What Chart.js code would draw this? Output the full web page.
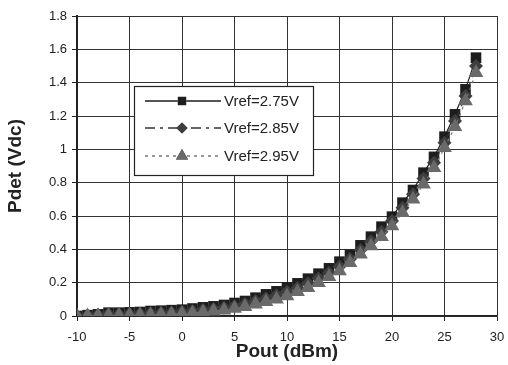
<!DOCTYPE html>
<html>
<head>
<meta charset="utf-8">
<script src="https://cdn.jsdelivr.net/npm/chart.js@4"></script>
<style>
  html, body { margin: 0; padding: 0; background: #fff; }
  #wrap { width: 508px; height: 365px; }
</style>
</head>
<body>
<div id="wrap"><canvas id="pdetChart" width="508" height="365"></canvas></div>
<script>
// ----------------------------
// DATA
// ----------------------------
const poutDbm = [-10, -9, -8, -7, -6, -5, -4, -3, -2, -1, 0, 1, 2, 3, 4, 5, 6, 7, 8, 9,
  10, 11, 12, 13, 14, 15, 16, 17, 18, 19, 20, 21, 22, 23, 24, 25, 26, 27, 28];

const vref275 = [0.0, 0.005, 0.01, 0.02, 0.02, 0.022, 0.024, 0.03, 0.032, 0.035,
  0.038, 0.045, 0.052, 0.058, 0.066, 0.078, 0.09, 0.11, 0.13, 0.148,
  0.172, 0.196, 0.224, 0.254, 0.286, 0.326, 0.366, 0.424, 0.476, 0.536,
  0.596, 0.68, 0.756, 0.86, 0.955, 1.076, 1.21, 1.36, 1.55];

const vref285 = [0.0, 0.003, 0.006, 0.01, 0.011, 0.012, 0.014, 0.017, 0.019, 0.021,
  0.025, 0.03, 0.036, 0.042, 0.05, 0.06, 0.072, 0.09, 0.106, 0.124,
  0.146, 0.17, 0.196, 0.226, 0.26, 0.297, 0.342, 0.396, 0.448, 0.505,
  0.57, 0.65, 0.73, 0.825, 0.92, 1.04, 1.17, 1.32, 1.5];

const vref295 = [0.0, 0.0, 0.001, 0.002, 0.003, 0.004, 0.005, 0.006, 0.008, 0.01,
  0.013, 0.017, 0.022, 0.028, 0.035, 0.045, 0.055, 0.07, 0.085, 0.1,
  0.12, 0.145, 0.17, 0.2, 0.235, 0.27, 0.32, 0.37, 0.42, 0.475,
  0.54, 0.62, 0.7, 0.79, 0.89, 1.01, 1.135, 1.29, 1.46];

const seriesNames = ["Vref=2.75V", "Vref=2.85V", "Vref=2.95V"];
const xTicks = [-10, -5, 0, 5, 10, 15, 20, 25, 30];
const yTicks = [0, 0.2, 0.4, 0.6, 0.8, 1, 1.2, 1.4, 1.6, 1.8];

// ----------------------------
// STYLES
// ----------------------------
const FONT = "'Liberation Sans', Arial, sans-serif";
const styles = [
  { color: "#1e1c1d", point: "rect", radius: 7.5, dash: [], lineColor: "#1e1c1d" },
  { color: "#3e3e3e", point: "rectRot", radius: 7, dash: [10, 5, 3, 5], lineColor: "#333" },
  { color: "#6a6a6a", point: "triangle", radius: 8.5, dash: [3, 4], lineColor: "#777" },
];

const pts = (ys) => poutDbm.map((x, i) => ({ x: x, y: ys[i] }));

// ----------------------------
// CUSTOM LEGEND (boxed, like the figure)
// ----------------------------
const boxLegend = {
  id: "boxLegend",
  afterDraw(chart) {
    const c = chart.ctx;
    const left = 134, top = 86, w = 179, h = 89;
    c.save();
    c.fillStyle = "#fff";
    c.fillRect(left, top, w, h);
    c.strokeStyle = "#222";
    c.lineWidth = 1.2;
    c.strokeRect(left + 0.5, top + 0.5, w, h);
    const rows = [101, 128, 156];
    rows.forEach((ry, i) => {
      const s = styles[i];
      c.beginPath();
      c.setLineDash(s.dash);
      c.strokeStyle = s.lineColor;
      c.lineWidth = 1.3;
      c.moveTo(145, ry);
      c.lineTo(221, ry);
      c.stroke();
      c.setLineDash([]);
      Chart.helpers.drawPoint(c, {
        pointStyle: s.point, radius: s.radius - 1.5, borderWidth: 0, rotation: 0,
      }, 182, ry);
      c.fillStyle = s.color;
      c.fill();
      c.fillStyle = "#222";
      c.font = "15px " + FONT;
      c.textBaseline = "middle";
      c.textAlign = "left";
      c.fillText(seriesNames[i], 224, ry + 1);
    });
    c.restore();
  },
};

// ----------------------------
// CHART
// ----------------------------
const datasets = [vref275, vref285, vref295].map((ys, i) => ({
  label: seriesNames[i],
  data: pts(ys),
  showLine: true,
  borderColor: styles[i].lineColor,
  borderWidth: 1.2,
  borderDash: styles[i].dash,
  backgroundColor: styles[i].color,
  pointStyle: styles[i].point,
  pointRadius: styles[i].radius,
  pointBorderWidth: 0,
  pointBackgroundColor: styles[i].color,
  tension: 0,
  order: 2 - i,
}));

new Chart(document.getElementById("pdetChart"), {
  type: "scatter",
  data: { datasets: datasets },
  plugins: [boxLegend],
  options: {
    responsive: false,
    animation: false,
    layout: { padding: { left: 0, right: 11, top: 16, bottom: 0 } },
    plugins: { legend: { display: false }, tooltip: { enabled: false } },
    scales: {
      x: {
        type: "linear",
        min: -10,
        max: 30,
        afterBuildTicks: (s) => { s.ticks = xTicks.map((v) => ({ value: v })); },
        afterFit: (s) => { s.height = 49; s.paddingRight = 0; s.paddingLeft = 0; },
        ticks: { color: "#222", font: { family: FONT, size: 13 }, padding: 9, maxRotation: 0 },
        grid: { color: "#333", lineWidth: 1, tickLength: 5, tickColor: "#222" },
        border: { color: "#222", width: 1.5 },
        title: {
          display: true, text: "Pout (dBm)", color: "#222",
          font: { family: FONT, size: 19, weight: "bold" },
          padding: { top: 0, bottom: 2 },
        },
      },
      y: {
        type: "linear",
        min: 0,
        max: 1.8,
        afterBuildTicks: (s) => { s.ticks = yTicks.map((v) => ({ value: v })); },
        afterFit: (s) => { s.width = 77; s.paddingTop = 0; s.paddingBottom = 0; },
        ticks: {
          color: "#222", font: { family: FONT, size: 13 }, padding: 5,
          callback: (v) => String(Math.round(v * 10) / 10),
        },
        grid: { color: "#333", lineWidth: 1, tickLength: 5, tickColor: "#222" },
        border: { color: "#222", width: 2 },
        title: {
          display: true, text: "Pdet (Vdc)", color: "#222",
          font: { family: FONT, size: 19, weight: "bold" },
          padding: { top: 4, bottom: 0 },
        },
      },
    },
  },
});
</script>
</body>
</html>
